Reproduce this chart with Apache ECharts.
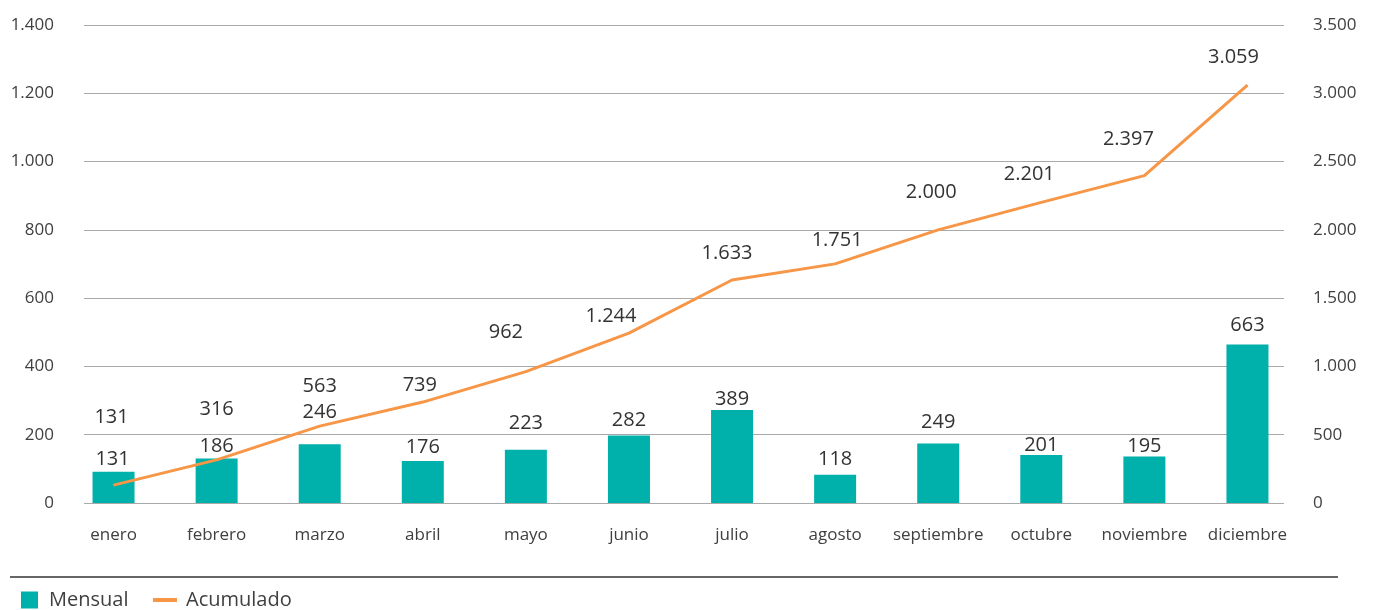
<!DOCTYPE html>
<html><head><meta charset="utf-8">
<script src="https://cdn.jsdelivr.net/npm/echarts@6/dist/echarts.min.js"></script>
<style>html,body{margin:0;padding:0;background:#fff}#c{width:1375px;height:610px}</style>
</head><body><div id="c"></div>
<script>
// ---- data ----
const categories = ['enero','febrero','marzo','abril','mayo','junio','julio','agosto','septiembre','octubre','noviembre','diciembre'];
const mensual = [131,186,246,176,223,282,389,118,249,201,195,663];
const acumulado = [131,316,563,739,962,1244,1633,1751,2000,2201,2397,3059];
const leftAxisMax = 1400, leftAxisStep = 200;
const rightAxisMax = 3500, rightAxisStep = 500;
const barScaleMax = 2000;

// ---- label placement (pixel nudges, layout only) ----
const mensualLabelShift = [[-1,-1],[0,-1],[0,-21],[0,-3],[0,-15],[0,-4],[0,0],[0,-5],[0,-10],[0,1],[0,1],[0,-8]];
const acumuladoLabelShift = [[-2,-56],[0,-39],[0,-28],[-3,-5],[-20,-28],[-18,-5],[-5,-15],[2,-12],[-7,-26],[-12,-17],[-16,-25],[-14,-16]];

const fmt = v => String(v).replace(/\B(?=(\d{3})+(?!\d))/g, '.');
const FONT = "'Open Sans', 'Noto Sans', sans-serif";
const TEAL = '#00B0AA', ORANGE = '#F79646';

const chart = echarts.init(document.getElementById('c'), null, {renderer: 'canvas'});
chart.setOption({
  animation: false,
  textStyle: {fontFamily: FONT},
  grid: [
    {left: 62, right: 76, top: 25, bottom: 107},
    {left: 84, right: 91, top: 25, bottom: 107}
  ],
  xAxis: [
    {type: 'category', gridIndex: 0, data: categories,
     axisLine: {show: false}, axisTick: {show: false},
     axisLabel: {interval: 0, color: '#404040', fontSize: 17, margin: 24, fontFamily: FONT}},
    {type: 'value', gridIndex: 1, show: false, min: 0, max: 1}
  ],
  yAxis: [
    {type: 'value', gridIndex: 1, min: 0, max: leftAxisMax, interval: leftAxisStep, position: 'left',
     axisLine: {show: false}, axisTick: {show: false},
     axisLabel: {color: '#404040', fontSize: 17, margin: 30, formatter: fmt, fontFamily: FONT},
     splitLine: {lineStyle: {color: '#A9A9A9', width: 1}}},
    {type: 'value', gridIndex: 1, min: 0, max: rightAxisMax, interval: rightAxisStep, position: 'right',
     axisLine: {show: false}, axisTick: {show: false},
     axisLabel: {color: '#404040', fontSize: 17, margin: 29, formatter: fmt, fontFamily: FONT},
     splitLine: {show: false}},
    {type: 'value', gridIndex: 0, min: 0, max: barScaleMax, show: false},
    {type: 'value', gridIndex: 0, min: 0, max: rightAxisMax, show: false}
  ],
  legend: [
    {data: ['Mensual'], left: 21, top: 590, padding: 0, itemWidth: 17, itemHeight: 17, icon: 'rect',
     textStyle: {fontSize: 20, color: '#404040', padding: [0,0,0,6], fontFamily: FONT}},
    {data: ['Acumulado'], left: 153, top: 590, padding: 0, itemWidth: 24, itemHeight: 4, icon: 'rect',
     textStyle: {fontSize: 20, color: '#404040', padding: [0,0,0,4], fontFamily: FONT}}
  ],
  graphic: [
    {type: 'line', shape: {x1: 10, y1: 577, x2: 1338, y2: 577}, style: {stroke: '#333', lineWidth: 1.5}, silent: true}
  ],
  series: [
    {name: 'Mensual', type: 'bar', xAxisIndex: 0, yAxisIndex: 2, barWidth: 42,
     itemStyle: {color: TEAL},
     label: {show: true, position: 'top', distance: 0, fontSize: 20, color: '#333', lineHeight: 22, formatter: p => fmt(p.value), fontFamily: FONT},
     data: mensual.map((v, i) => ({value: v, label: {offset: mensualLabelShift[i]}}))},
    {name: 'Acumulado', type: 'line', xAxisIndex: 0, yAxisIndex: 3, symbol: 'circle', symbolSize: 1, showSymbol: true, z: 5,
     lineStyle: {color: ORANGE, width: 3}, itemStyle: {color: ORANGE},
     label: {show: true, position: 'top', distance: 0, fontSize: 20, color: '#333', lineHeight: 22, formatter: p => fmt(p.value), fontFamily: FONT},
     data: acumulado.map((v, i) => ({value: v, label: {offset: acumuladoLabelShift[i]}}))}
  ]
});
</script>
</body></html>
